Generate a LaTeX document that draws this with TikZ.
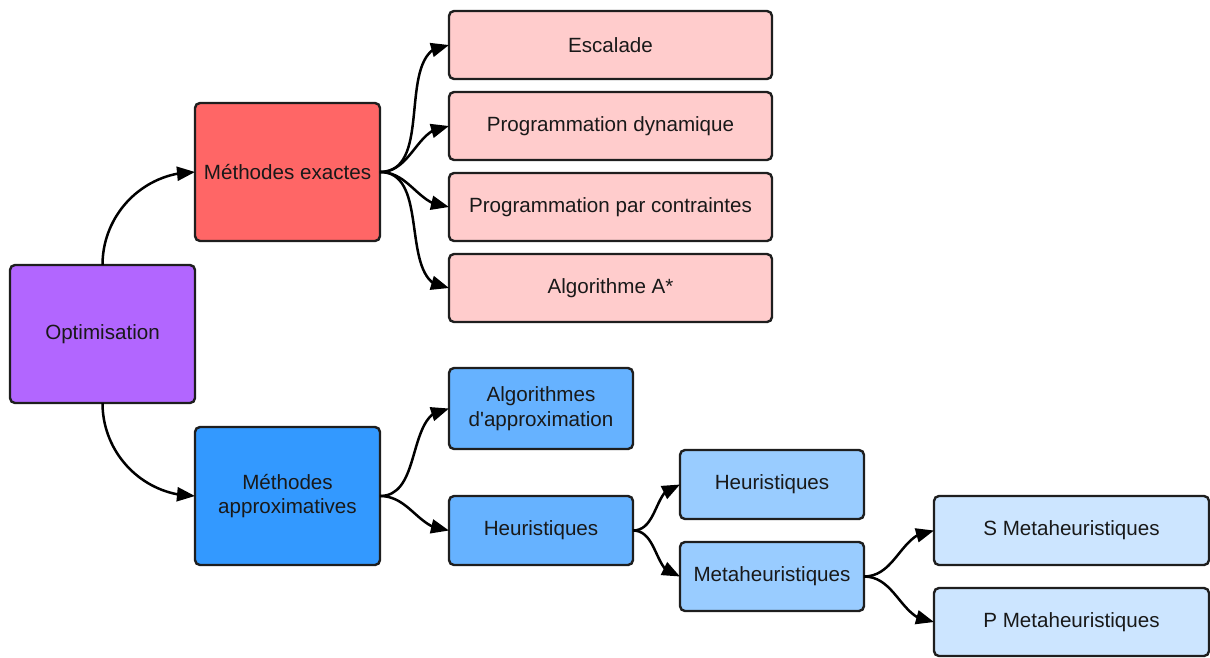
\documentclass[tikz,border=0pt]{standalone}
\usepackage{fontspec}
\setmainfont{Liberation Sans}[Ligatures=TeXOff]
\usetikzlibrary{arrows.meta,bending}
\definecolor{cPurple}{HTML}{B266FF}
\definecolor{cRed}{HTML}{FF6666}
\definecolor{cPink}{HTML}{FFCCCC}
\definecolor{cBlue}{HTML}{3399FF}
\definecolor{cBlueB}{HTML}{66B2FF}
\definecolor{cBlueC}{HTML}{99CCFF}
\definecolor{cBlueD}{HTML}{CCE5FF}
\definecolor{cLine}{HTML}{1E1E1E}
\tikzset{
  box/.style={draw=cLine, line width=2.4pt, rounded corners=5pt, inner sep=0pt, outer sep=0pt,
    align=center, text=black!90, font=\fontsize{20.6}{24.5}\selectfont},
  conn/.style={draw=black, line width=2.5pt, -{Triangle[length=18pt,width=14pt]}},
}
\begin{document}
\begin{tikzpicture}[x=1pt,y=-1pt]
\useasboundingbox (0,0) rectangle (1210,657);
\node[box, fill=cPurple, minimum width=185pt, minimum height=138pt] (opt) at (102.5,334) {Optimisation};
\node[box, fill=cRed, minimum width=185pt, minimum height=138pt] (exa) at (287.5,172) {Méthodes exactes};
\node[box, fill=cBlue, minimum width=185pt, minimum height=138pt] (app) at (287.5,496) {Méthodes\\approximatives};
\node[box, fill=cPink, minimum width=323pt, minimum height=68pt] (esc) at (610.5,45) {Escalade};
\node[box, fill=cPink, minimum width=323pt, minimum height=68pt] (pdyn) at (610.5,126) {Programmation dynamique};
\node[box, fill=cPink, minimum width=323pt, minimum height=68pt] (ppc) at (610.5,207) {Programmation par contraintes};
\node[box, fill=cPink, minimum width=323pt, minimum height=68pt] (astar) at (610.5,288) {Algorithme A*};
\node[box, fill=cBlueB, minimum width=184pt, minimum height=81pt] (aapp) at (541,408.5) {Algorithmes\\d'approximation};
\node[box, fill=cBlueB, minimum width=184pt, minimum height=69pt] (heu) at (541,530.5) {Heuristiques};
\node[box, fill=cBlueC, minimum width=184pt, minimum height=69pt] (heub) at (772,484.5) {Heuristiques};
\node[box, fill=cBlueC, minimum width=184pt, minimum height=69pt] (meta) at (772,576.5) {Metaheuristiques};
\node[box, fill=cBlueD, minimum width=275pt, minimum height=69pt] (smeta) at (1071.5,530.5) {S Metaheuristiques};
\node[box, fill=cBlueD, minimum width=275pt, minimum height=68pt] (pmeta) at (1071.5,622) {P Metaheuristiques};

\draw[conn] (opt.north) to[out=90,in=180] (exa.west);
\draw[conn] (opt.south) to[out=-90,in=180] (app.west);
\foreach \t in {esc,pdyn,ppc,astar}
  \draw[conn] (exa.east) to[out=0,in=180] (\t.west);
\draw[conn] (app.east) to[out=0,in=180] (aapp.west);
\draw[conn] (app.east) to[out=0,in=180] (heu.west);
\draw[conn] (heu.east) to[out=0,in=180] (heub.west);
\draw[conn] (heu.east) to[out=0,in=180] (meta.west);
\draw[conn] (meta.east) to[out=0,in=180] (smeta.west);
\draw[conn] (meta.east) to[out=0,in=180] (pmeta.west);
\end{tikzpicture}
\end{document}
